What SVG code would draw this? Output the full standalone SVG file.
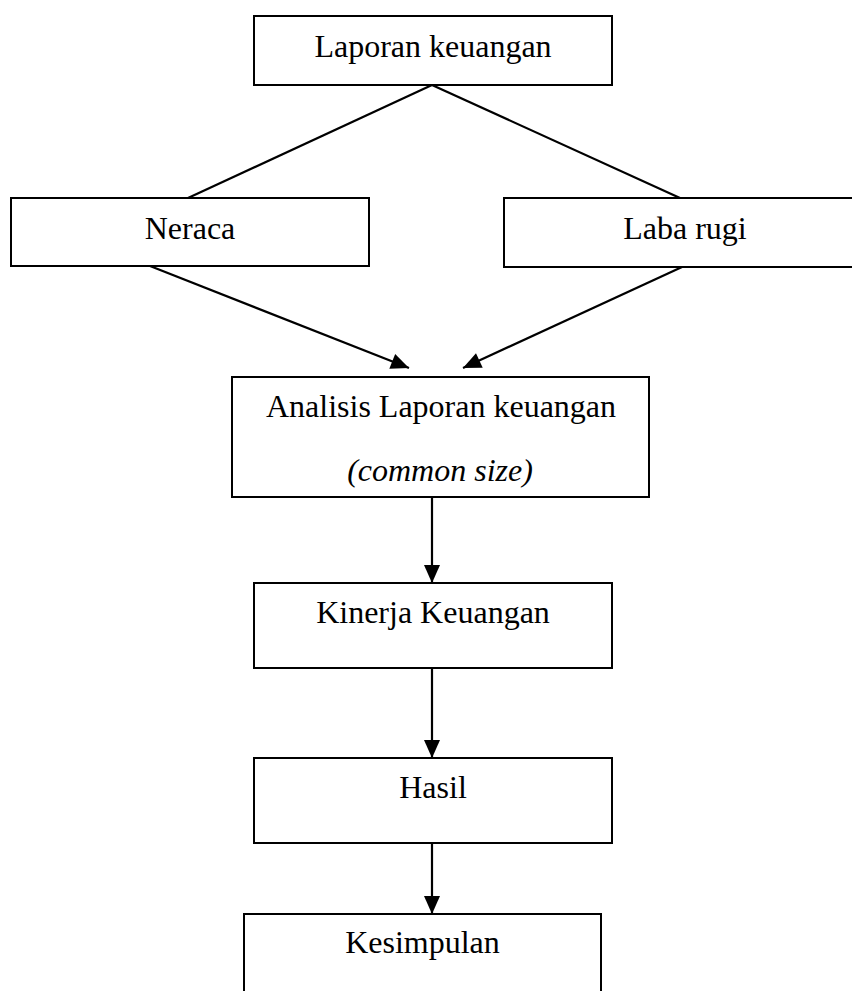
<svg xmlns="http://www.w3.org/2000/svg" width="852" height="991" viewBox="0 0 852 991">
<style>
.box{fill:#fff;stroke:#000;stroke-width:2}
.t{font-family:"Liberation Serif","Times New Roman",serif;font-size:32px;fill:#000;text-anchor:middle}
.i{font-style:italic}
.c{stroke:#000;stroke-width:2.2;fill:none}
</style>
<defs>
<marker id="ah" markerWidth="18" markerHeight="16" refX="18" refY="8" orient="auto" markerUnits="userSpaceOnUse" overflow="visible">
<path d="M0,0 L18,8 L0,16 Z" fill="#000"/>
</marker>
</defs>
<rect width="852" height="991" fill="#fff"/>
<g id="connectors">
<line class="c" x1="432" y1="85" x2="188" y2="198"/>
<line class="c" x1="432" y1="85" x2="680" y2="198"/>
<line class="c" x1="150" y1="266" x2="409" y2="368" marker-end="url(#ah)"/>
<line class="c" x1="682" y1="267" x2="463" y2="368" marker-end="url(#ah)"/>
<line class="c" x1="432" y1="497" x2="432" y2="583" marker-end="url(#ah)"/>
<line class="c" x1="432" y1="668" x2="432" y2="758" marker-end="url(#ah)"/>
<line class="c" x1="432" y1="843" x2="432" y2="914" marker-end="url(#ah)"/>
</g>
<g id="laporan">
<rect class="box" x="254" y="16" width="358" height="69"/>
<text class="t" x="433" y="57">Laporan keuangan</text>
</g>
<g id="neraca">
<rect class="box" x="11" y="198" width="358" height="68"/>
<text class="t" x="190" y="239">Neraca</text>
</g>
<g id="labarugi">
<rect class="box" x="504" y="198" width="360" height="69"/>
<text class="t" x="685" y="239">Laba rugi</text>
</g>
<g id="analisis">
<rect class="box" x="232" y="377" width="417" height="120"/>
<text class="t" x="441" y="417">Analisis Laporan keuangan</text>
<text class="t i" x="440" y="481">(common size)</text>
</g>
<g id="kinerja">
<rect class="box" x="254" y="583" width="358" height="85"/>
<text class="t" x="433" y="623">Kinerja Keuangan</text>
</g>
<g id="hasil">
<rect class="box" x="254" y="758" width="358" height="85"/>
<text class="t" x="433" y="798">Hasil</text>
</g>
<g id="kesimpulan">
<rect class="box" x="244" y="914" width="357" height="100"/>
<text class="t" x="422.5" y="953">Kesimpulan</text>
</g>
</svg>
